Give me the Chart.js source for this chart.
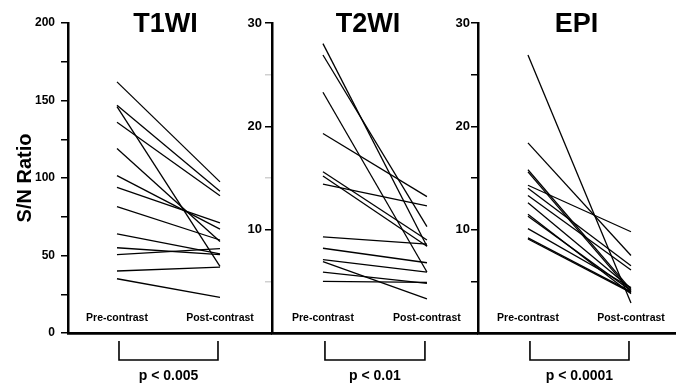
<!DOCTYPE html>
<html>
<head>
<meta charset="utf-8">
<script src="https://cdn.jsdelivr.net/npm/chart.js@4.4.1/dist/chart.umd.min.js"></script>
<style>
  html, body { margin: 0; padding: 0; background: #fff; }
  #wrap { position: relative; width: 676px; height: 383px; overflow: hidden; }
  canvas { position: absolute; top: 0; }
</style>
</head>
<body>
<div id="wrap">
  <canvas id="c1"></canvas>
  <canvas id="c2"></canvas>
  <canvas id="c3"></canvas>
</div>
<script>
const phases = ['Pre-contrast', 'Post-contrast'];
const titles = ['T1WI', 'T2WI', 'EPI'];
const pLabels = ['p < 0.005', 'p < 0.01', 'p < 0.0001'];

// S/N ratio per subject, pre / post contrast
const t1Pre  = [162, 147, 146, 136, 119, 101.5, 94, 81.5, 64, 55, 50.5, 40, 35];
const t1Post = [97.5, 91.5, 43, 88.5, 59, 67, 71, 60, 51, 50.5, 54.5, 42.5, 23];

const t2Pre  = [28, 26.9, 23.3, 19.3, 15.6, 15.2, 14.4, 9.3, 8.2, 7.1, 6.9, 5.9, 5.0];
const t2Post = [8.4, 10.3, 5.9, 13.2, 9.0, 8.4, 12.3, 8.6, 6.8, 5.9, 3.3, 4.8, 4.9];

const epiPre  = [26.9, 18.4, 15.8, 15.6, 14.3, 14.0, 13.3, 12.6, 11.5, 11.3, 10.1, 9.2, 9.1];
const epiPost = [2.9, 7.5, 4.2, 4.0, 9.8, 6.5, 6.1, 4.3, 3.8, 4.1, 4.4, 4.0, 3.9];

const t1Max = 200, t1Step = 25, t1LabelStep = 50;
const t2Max = 30, t2Step = 5, t2LabelStep = 10;

const FONT = 'Liberation Sans, Arial, sans-serif';

const panelDeco = {
    id: 'panelDeco',
    afterDraw(chart, args, opts) {
        const { ctx, scales: { x } } = chart;
        const x0 = x.getPixelForValue(0);
        const x1 = x.getPixelForValue(1);
        const mid = (x0 + x1) / 2;
        ctx.save();
        ctx.fillStyle = '#000';
        ctx.strokeStyle = '#000';

        ctx.font = `bold 27px ${FONT}`;
        ctx.textAlign = 'center';
        ctx.textBaseline = 'alphabetic';
        ctx.fillText(opts.title, mid + opts.titleShift, 32);

        ctx.font = `bold 10.5px ${FONT}`;
        ctx.textBaseline = 'middle';
        ctx.fillText(phases[0], x0, 318);
        ctx.fillText(phases[1], x1, 318);

        ctx.lineWidth = 1.6;
        ctx.beginPath();
        ctx.moveTo(x0 + 2, 341);
        ctx.lineTo(x0 + 2, 360);
        ctx.lineTo(x1 - 2, 360);
        ctx.lineTo(x1 - 2, 341);
        ctx.stroke();

        ctx.font = `bold 14px ${FONT}`;
        ctx.fillText(opts.p, mid, 376);

        if (opts.yTitle) {
            ctx.translate(25, 178);
            ctx.rotate(-Math.PI / 2);
            ctx.font = `bold 20px ${FONT}`;
            ctx.fillText(opts.yTitle, 0, 0);
        }
        ctx.restore();
    }
};

function makePanel(id, left, width, axisW, xmin, xmax, pre, post, max, step, labelStep, tickFont, tickPad, showZero, minorColor, deco) {
    const canvas = document.getElementById(id);
    canvas.width = width;
    canvas.height = 383;
    canvas.style.left = left + 'px';

    const datasets = pre.map((v, i) => ({
        data: [{ x: 0, y: v }, { x: 1, y: post[i] }],
        borderColor: '#000',
        borderWidth: 1.3,
        pointRadius: 0,
        fill: false,
        tension: 0
    }));

    return new Chart(canvas.getContext('2d'), {
        type: 'line',
        data: { datasets },
        plugins: [panelDeco],
        options: {
            responsive: false,
            animation: false,
            layout: { padding: { top: 23, right: 0, left: 0, bottom: 0 } },
            plugins: {
                legend: { display: false },
                tooltip: { enabled: false },
                panelDeco: deco
            },
            scales: {
                x: {
                    type: 'linear',
                    min: xmin,
                    max: xmax,
                    ticks: { display: false },
                    grid: { display: false },
                    border: { display: true, color: '#000', width: 2.8 },
                    afterFit: s => { s.height = 50; }
                },
                y: {
                    min: 0,
                    max: max,
                    ticks: {
                        stepSize: step,
                        color: '#000',
                        padding: tickPad,
                        font: { family: FONT, size: tickFont, weight: 'bold' },
                        callback: v => (v % labelStep === 0 && (v !== 0 || showZero) ? v : '')
                    },
                    grid: {
                        drawOnChartArea: false,
                        drawTicks: true,
                        tickLength: 7,
                        lineWidth: 1.5,
                        color: c => (c.tick && c.tick.value % labelStep !== 0 ? minorColor : '#000')
                    },
                    border: { display: true, color: '#000', width: 2.5 },
                    afterFit: s => { s.width = axisW; }
                }
            }
        }
    });
}

makePanel('c1', 0, 272, 68, -0.4757, 1.505, t1Pre, t1Post, t1Max, t1Step, t1LabelStep, 12, 6, true, '#000',
    { title: titles[0], titleShift: -3, p: pLabels[0], yTitle: 'S/N Ratio' });
makePanel('c2', 230, 248, 42, -0.490, 1.491, t2Pre, t2Post, t2Max, t2Step, t2LabelStep, 13, 3, false, '#d0d0d0',
    { title: titles[1], titleShift: -7, p: pLabels[1] });
makePanel('c3', 436, 240, 42, -0.485, 1.437, epiPre, epiPost, t2Max, t2Step, t2LabelStep, 13, 1, false, '#000',
    { title: titles[2], titleShift: -3, p: pLabels[2] });
</script>
</body>
</html>
